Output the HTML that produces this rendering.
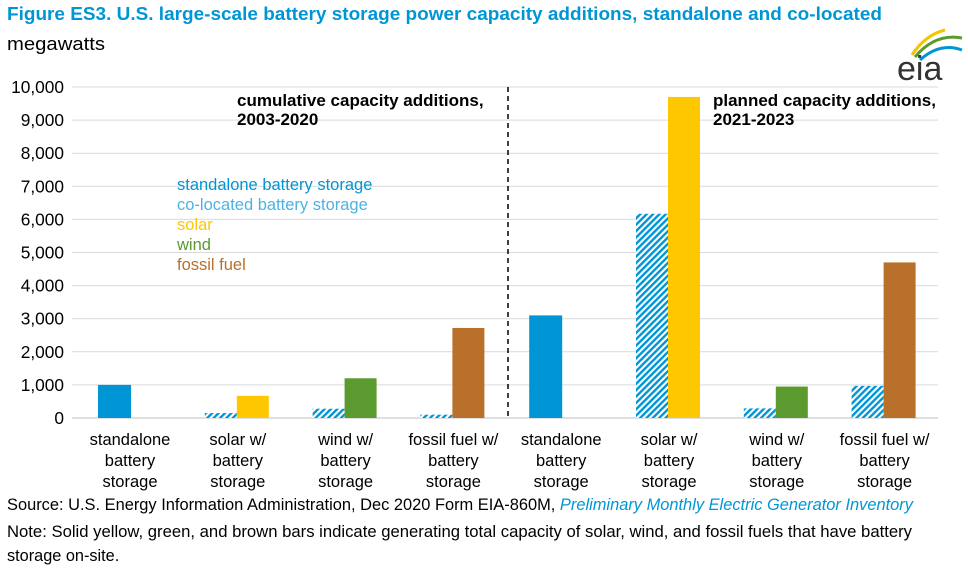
<!DOCTYPE html>
<html><head><meta charset="utf-8"><style>
body{margin:0;background:#fff;width:968px;height:570px;overflow:hidden;font-family:"Liberation Sans",sans-serif}
svg text{font-family:"Liberation Sans",sans-serif}
</style></head><body>
<svg id="chart" width="968" height="570" xmlns="http://www.w3.org/2000/svg">
<defs>
<pattern id="hatch" patternUnits="userSpaceOnUse" width="4.5" height="4.5" patternTransform="rotate(45)">
<rect width="4.5" height="4.5" fill="#fff"/><rect width="2.4" height="4.5" fill="#0096d6"/>
</pattern>
</defs>
<text x="7" y="20" font-size="18.6" font-weight="bold" fill="#0096d6" textLength="875" lengthAdjust="spacingAndGlyphs">Figure ES3. U.S. large-scale battery storage power capacity additions, standalone and co-located</text>
<text x="7" y="50" font-size="18" fill="#000" textLength="98" lengthAdjust="spacingAndGlyphs">megawatts</text>
<g>
<path d="M912 55 Q925 35 945 30" stroke="#f5c400" stroke-width="3" fill="none"/>
<path d="M915 57 Q935 33 962 38" stroke="#5a9a2e" stroke-width="3" fill="none"/>
<path d="M920 60 Q940 42 962 50" stroke="#0096d6" stroke-width="3" fill="none"/>
<text x="897" y="80" font-size="34" font-family="Liberation Serif" fill="#333">eia</text>
</g>
<g id="grid"></g><g id="yticks"></g><g id="bars"></g><g id="xlabels"></g>
<line x1="508" y1="87" x2="508" y2="418" stroke="#000" stroke-width="1.5" stroke-dasharray="5,4"/>
<text font-size="17" font-weight="bold"><tspan x="237" y="106">cumulative capacity additions,</tspan><tspan x="237" y="125">2003-2020</tspan></text>
<text font-size="17" font-weight="bold"><tspan x="713" y="106">planned capacity additions,</tspan><tspan x="713" y="125">2021-2023</tspan></text>
<g font-size="16.5">
<text x="177" y="190" fill="#0096d6">standalone battery storage</text>
<text x="177" y="210" fill="#4ab3e3">co-located battery storage</text>
<text x="177" y="230" fill="#ffc700">solar</text>
<text x="177" y="250" fill="#5a9a2e">wind</text>
<text x="177" y="270" fill="#b8702a">fossil fuel</text>
</g>
<text x="7" y="510" font-size="16.3" textLength="906" lengthAdjust="spacingAndGlyphs">Source: U.S. Energy Information Administration, Dec 2020 Form EIA-860M, <tspan fill="#0096d6" font-style="italic">Preliminary Monthly Electric Generator Inventory</tspan></text>
<text font-size="16.3"><tspan x="7" y="537" textLength="905" lengthAdjust="spacingAndGlyphs">Note: Solid yellow, green, and brown bars indicate generating total capacity of solar, wind, and fossil fuels that have battery</tspan><tspan x="7" y="561">storage on-site.</tspan></text>
</svg>
<script>
const categories=["standalone|battery|storage","solar w/|battery|storage","wind w/|battery|storage","fossil fuel w/|battery|storage","standalone|battery|storage","solar w/|battery|storage","wind w/|battery|storage","fossil fuel w/|battery|storage"];
const standalone=[1000,0,0,0,3100,0,0,0];
const colocated=[0,150,280,100,0,6170,290,970];
const generation=[0,670,1200,2720,0,9700,950,4700];
const genType=["","solar","wind","fossil","","solar","wind","fossil"];
const yTicks=[0,1000,2000,3000,4000,5000,6000,7000,8000,9000,10000];
const colors={solar:"#ffc700",wind:"#5a9a2e",fossil:"#b8702a"};
const NS="http://www.w3.org/2000/svg";
const y=v=>418-v*0.0331;
const xc=i=>130+i*107.8;
function mk(t,a,p){const e=document.createElementNS(NS,t);for(const k in a)e.setAttribute(k,a[k]);p.appendChild(e);return e;}
const grid=document.getElementById('grid'),yt=document.getElementById('yticks'),bars=document.getElementById('bars'),xl=document.getElementById('xlabels');
yTicks.forEach(v=>{
 const l=mk('line',{x1:72,x2:938,y1:y(v),y2:y(v),stroke:v?'#d9d9d9':'#bfbfbf','stroke-width':1},grid);
 
 
 const t=mk('text',{x:64,y:y(v)+6,'text-anchor':'end','font-size':17.3},yt);
 t.textContent=v.toLocaleString('en-US');
 
 
});
categories.forEach((c,i)=>{
 const cx=xc(i);
 if(standalone[i]>0){const r=mk('rect',{x:cx-32,y:y(standalone[i]),width:33,height:418-y(standalone[i]),fill:'#0096d6'},bars);
  
  }
 if(colocated[i]>0){const r=mk('rect',{x:cx-33,y:y(colocated[i]),width:32,height:418-y(colocated[i]),fill:'url(#hatch)'},bars);
  
  }
 if(generation[i]>0){const r=mk('rect',{x:cx-1,y:y(generation[i]),width:32,height:418-y(generation[i]),fill:colors[genType[i]]},bars);
  
  }
 const t=mk('text',{'text-anchor':'middle','font-size':16.5},xl);
 
 
 c.split('|').forEach((s,k)=>{const ts=mk('tspan',{x:cx,y:445+k*21},t);ts.textContent=s;});
});
</script>
</body></html>
